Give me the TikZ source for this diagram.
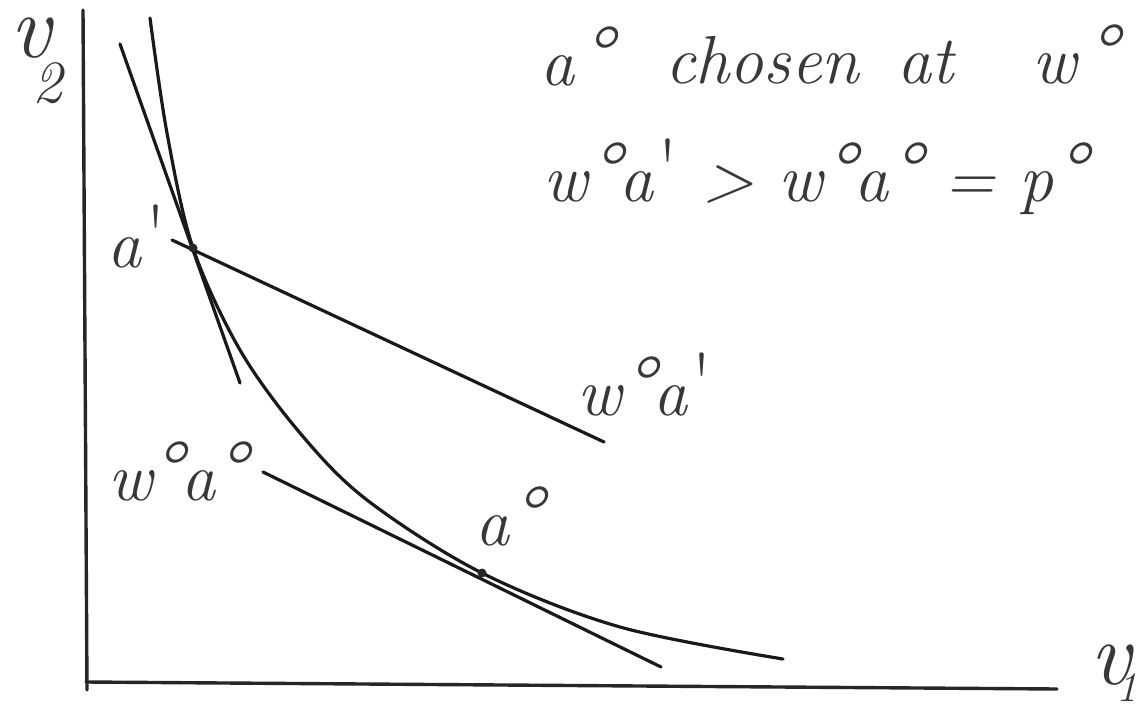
\documentclass[tikz,border=0pt]{standalone}
\usepackage{fontspec}
\newcommand{\dg}{{\fontsize{86}{86}\selectfont °}}
\newcommand{\pr}{\raisebox{4pt}{\fontsize{84}{84}\selectfont\upshape\textquotesingle}}
\newcommand{\subtxt}[3]{\raisebox{#1}{\fontsize{#2}{#2}\selectfont #3}}
\begin{document}
\begin{tikzpicture}[x=1pt,y=-1pt]
\tikzset{
  stroke/.style={line width=3.2pt, line cap=round, draw=black!90},
  axis/.style={line width=3.4pt, line cap=round, draw=black!85},
  lbl/.style={inner sep=0pt, anchor=base west, text=black!78, font=\fontsize{68}{72}\selectfont\itshape},
  axlbl/.style={lbl, font=\fontsize{90}{90}\selectfont\itshape, text height=40pt, text depth=0pt},
  dotmark/.style={circle, fill=black!85, inner sep=0pt, minimum size=9pt},
}
\useasboundingbox (0,0) rectangle (1145,709);
% axes
\coordinate (vtop) at (83,10);
\coordinate (vbot) at (87,690);
\coordinate (hleft) at (86,682);
\coordinate (hright) at (1057,689);
\draw[axis] (vtop) -- (vbot);
\draw[axis] (hleft) -- (hright);
% points
\coordinate (apc) at (193,248);
\coordinate (a0c) at (482,573);
% indifference curve
\draw[stroke] plot[smooth, tension=0.55] coordinates {(150,18) (167,133) (apc) (240,350) (300,433) (367,500) (a0c) (620,627) (783,659)};
% tangent at a'
\coordinate (t1s) at (120,44);
\coordinate (t1e) at (240,383);
\draw[stroke] (t1s) -- (t1e);
% line w0 a'
\coordinate (l1s) at (172,240);
\coordinate (l1e) at (604,442);
\draw[stroke] (l1s) -- (l1e);
% line w0 a0
\coordinate (l0s) at (263,472);
\coordinate (l0e) at (661,667);
\draw[stroke] (l0s) -- (l0e);
\node[dotmark] (ap) at (apc) {};
\node[dotmark] (a0) at (a0c) {};
% axis labels
\node[axlbl] (v2) at (10,57) {v\kern-18pt\subtxt{-45pt}{60}{2}};
\node[axlbl] (v1) at (1090,684) {v\kern-14pt\subtxt{-17pt}{42}{1}};
% point and line labels
\node[lbl] (lapr) at (107,267) {a\kern4pt\pr};
\node[lbl] (lwa1) at (577,415) {w\dg a\kern4pt\pr};
\node[lbl] (lwa0) at (108,500) {w\kern-3pt\dg a\kern-2pt\dg};
\node[lbl] (la0) at (475,545) {a\dg};
% top text
\node[lbl] (t1a) at (540,85) {a\kern5pt\dg};
\node[lbl] (t1b) at (665,83) {chosen};
\node[lbl] (t1c) at (897,83) {at};
\node[lbl] (t1d) at (1032,83) {w\kern8pt\dg};
\node[lbl] (t2) at (543,201) {w\dg a\kern4pt\pr{} > w\dg a\dg{} = p\dg};
\end{tikzpicture}
\end{document}
